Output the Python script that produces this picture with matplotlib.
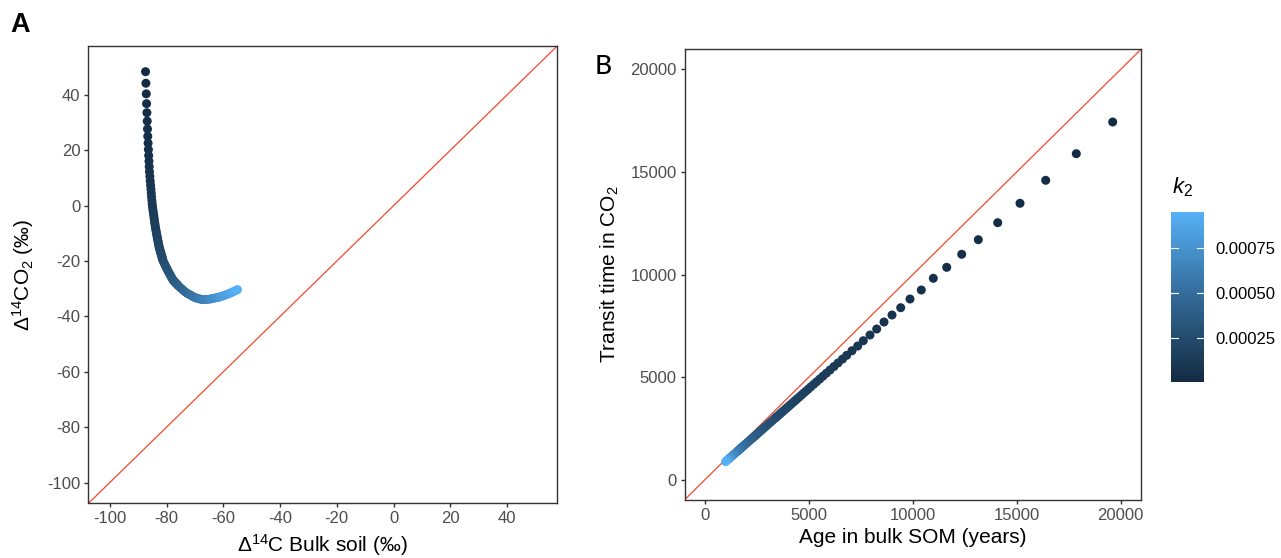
import numpy as np
import matplotlib
matplotlib.use("Agg")
import matplotlib.pyplot as plt
from matplotlib.colors import LinearSegmentedColormap, Normalize
from matplotlib.cm import ScalarMappable

plt.rcParams['font.family'] = ['Liberation Sans', 'DejaVu Sans']
plt.rcParams['mathtext.fontset'] = 'custom'
plt.rcParams['mathtext.rm'] = 'Liberation Sans'
plt.rcParams['mathtext.it'] = 'Liberation Sans:italic'
plt.rcParams['axes.unicode_minus'] = False

# ---------------- Panel A data (k2 in units of 1e-5) ----------------
k2_a_e5 = [0.5, 1, 1.5, 2, 2.5, 3, 3.5, 4, 4.5, 5, 5.5, 6, 6.5, 7, 7.5, 8, 8.5, 9, 9.5, 10,
           10.5, 11, 11.5, 12, 12.5, 13, 13.5, 14, 14.5, 15, 15.5, 16, 16.5, 17, 17.5, 18, 18.5, 19, 19.5, 20,
           20.5, 21, 21.5, 22, 22.5, 23, 23.5, 24, 24.5, 25,
           26, 27, 28, 29, 30, 31, 32, 33, 34, 35, 36, 37, 38, 39, 40,
           42, 44, 46, 48, 50, 52, 54, 56, 58, 60, 62, 64, 66, 68, 70, 72, 74, 76, 78, 80,
           82, 84, 86, 88, 90, 92, 94, 95]
bulk_d14c = [-87.40, -87.27, -87.14, -87.03, -86.92, -86.81, -86.71, -86.62, -86.50, -86.39,
             -86.29, -86.19, -86.10, -86.02, -85.88, -85.75, -85.62, -85.49, -85.38, -85.27,
             -85.16, -85.06, -84.93, -84.78, -84.63, -84.49, -84.36, -84.23, -84.11, -83.99,
             -83.86, -83.71, -83.57, -83.43, -83.30, -83.17, -83.04, -82.92, -82.80, -82.69,
             -82.57, -82.42, -82.26, -82.11, -81.96, -81.82, -81.68, -81.55, -81.42, -81.30,
             -80.95, -80.56, -80.19, -79.83, -79.50, -79.12, -78.75, -78.37, -77.99, -77.62,
             -77.24, -76.86, -76.49, -76.11, -75.73,
             -74.98, -74.22, -73.47, -72.71, -71.96, -71.21, -70.45, -69.70, -68.94, -68.19,
             -67.44, -66.68, -65.93, -65.17, -64.42, -63.67, -62.91, -62.16, -61.40, -60.65,
             -59.89, -59.14, -58.38, -57.63, -56.87, -56.12, -55.36, -54.99]
co2_d14c = [48.40, 44.23, 40.40, 36.86, 33.59, 30.54, 27.71, 25.07, 22.59, 20.28,
            18.10, 16.05, 14.11, 12.29, 10.56, 8.93, 7.37, 5.90, 4.50, 3.16,
            1.89, 0.67, -0.49, -1.60, -2.66, -3.68, -4.66, -5.60, -6.50, -7.37,
            -8.20, -9.01, -9.78, -10.53, -11.25, -11.94, -12.62, -13.27, -13.90, -14.50,
            -15.09, -15.66, -16.22, -16.75, -17.27, -17.78, -18.27, -18.74, -19.21, -19.66,
            -20.52, -21.34, -22.11, -22.85, -23.55, -24.26, -24.95, -25.65, -26.36, -26.99,
            -27.40, -27.82, -28.22, -28.64, -29.06,
            -29.75, -30.42, -31.09, -31.66, -32.09, -32.51, -32.95, -33.28, -33.50, -33.71,
            -33.90, -33.87, -33.84, -33.81, -33.67, -33.51, -33.35, -33.19, -33.02, -32.76,
            -32.49, -32.21, -31.94, -31.62, -31.25, -30.89, -30.52, -30.34]

# ---------------- Panel B data (k2 in units of 1e-5) ----------------
k2_b_e5 = [0.5, 1, 1.5, 2, 2.5, 3, 3.5, 4, 4.5, 5, 5.5, 6, 6.5, 7, 7.5, 8, 8.5, 9, 9.5, 10,
           10.5, 11, 11.5, 12, 12.5, 13, 13.5, 14, 14.5, 15, 15.5, 16, 16.5, 17, 17.5, 18, 18.5, 19, 19.5, 20,
           20.5, 21, 21.5, 22, 22.5, 23, 23.5, 24, 24.5, 25,
           26, 27, 28, 29, 30, 31, 32, 33, 34, 35, 36, 37, 38, 39, 40,
           42, 44, 46, 48, 50, 52, 54, 56, 58, 60,
           65, 70, 75, 80, 85, 90, 95]
age_bulk = [19615, 17865, 16394, 15159, 14087, 13154, 12356, 11635, 10990, 10413,
            9870, 9423, 9005, 8620, 8269, 7947, 7625, 7356, 7082, 6827,
            6623, 6410, 6211, 6024, 5848, 5682, 5525, 5376, 5236, 5102,
            4975, 4854, 4739, 4630, 4525, 4425, 4329, 4237, 4149, 4065,
            3984, 3906, 3831, 3759, 3690, 3623, 3559, 3497, 3436, 3378,
            3268, 3165, 3067, 2976, 2890, 2809, 2732, 2660, 2591, 2525,
            2463, 2404, 2347, 2294, 2242,
            2146, 2058, 1976, 1901, 1832, 1767, 1706, 1650, 1597, 1548,
            1437, 1340, 1256, 1182, 1116, 1057, 1004]
transit_co2 = [17435, 15891, 14595, 13475, 12530, 11702, 10991, 10357, 9822, 9252,
               8813, 8390, 8034, 7693, 7352, 7060, 6782, 6524, 6295, 6071,
               5888, 5698, 5522, 5355, 5199, 5051, 4912, 4779, 4655, 4536,
               4423, 4315, 4213, 4116, 4023, 3934, 3848, 3767, 3688, 3614,
               3542, 3472, 3406, 3342, 3280, 3221, 3164, 3109, 3055, 3003,
               2905, 2814, 2727, 2646, 2569, 2497, 2429, 2365, 2303, 2245,
               2190, 2137, 2086, 2039, 1993,
               1908, 1830, 1757, 1690, 1629, 1571, 1517, 1467, 1420, 1376,
               1277, 1191, 1117, 1051, 992, 940, 893]

cbar_ticks = [0.00025, 0.00050, 0.00075]
cbar_labels = ["0.00025", "0.00050", "0.00075"]

k2_a = np.array(k2_a_e5) * 1e-5
k2_b = np.array(k2_b_e5) * 1e-5

cmap = LinearSegmentedColormap.from_list(
    "gg", [(0.0, "#132B43"), (0.25, "#234A6C"), (0.5, "#336A98"),
           (0.75, "#448DC6"), (1.0, "#56B1F7")])
norm = Normalize(vmin=min(k2_a.min(), k2_b.min()), vmax=max(k2_a.max(), k2_b.max()))

W, H = 1281, 558
fig = plt.figure(figsize=(W / 100, H / 100), dpi=100)

def px_axes(l, t, r, b):
    return fig.add_axes([l / W, 1 - b / H, (r - l) / W, (b - t) / H])

tick_col = "#4D4D4D"
spine_col = "#333333"

def style(ax):
    for s in ax.spines.values():
        s.set_color(spine_col)
        s.set_linewidth(1.0)
    ax.tick_params(axis="both", colors=spine_col, labelcolor=tick_col,
                   labelsize=12, length=3.2, width=1.0, pad=2.5)

dot_s = 42

# Panel A
axA = px_axes(88.5, 46.5, 556.7, 503.3)
limA = (-107.5, 57.5)
axA.set_xlim(limA)
axA.set_ylim(limA)
axA.plot(limA, limA, color="#F2492A", lw=0.9, zorder=1)
axA.scatter(bulk_d14c, co2_d14c, c=k2_a, cmap=cmap, norm=norm, s=dot_s,
            linewidths=0, zorder=2)
axA.set_xticks([-100, -80, -60, -40, -20, 0, 20, 40])
axA.set_yticks([-100, -80, -60, -40, -20, 0, 20, 40])
style(axA)
axA.set_xlabel("Δ$^{14}$C Bulk soil (‰)", fontsize=15, labelpad=4)
axA.set_ylabel("Δ$^{14}$CO$_2$ (‰)", fontsize=15, labelpad=8)

# Panel B
axB = px_axes(684.7, 49.3, 1141.0, 499.7)
limB = (-962, 20976)
axB.set_xlim(limB)
axB.set_ylim(limB)
axB.plot(limB, limB, color="#F2492A", lw=0.9, zorder=1)
axB.scatter(age_bulk, transit_co2, c=k2_b, cmap=cmap, norm=norm, s=dot_s,
            linewidths=0, zorder=2)
axB.set_xticks([0, 5000, 10000, 15000, 20000])
axB.set_yticks([0, 5000, 10000, 15000, 20000])
style(axB)
axB.set_xlabel("Age in bulk SOM (years)", fontsize=15, labelpad=4)
axB.set_ylabel("Transit time in CO$_2$", fontsize=15, labelpad=7)

# Colorbar
cax = px_axes(1171, 211.7, 1204, 381.7)
sm = ScalarMappable(norm=norm, cmap=cmap)
cb = fig.colorbar(sm, cax=cax)
cb.outline.set_visible(False)
cb.set_ticks(cbar_ticks)
cb.set_ticklabels(cbar_labels)
cax.tick_params(length=0, labelsize=12, labelcolor="black", pad=8)
for t in cbar_ticks:
    cax.axhline(t, xmin=0, xmax=0.2, color="white", lw=0.8)
    cax.axhline(t, xmin=0.8, xmax=1.0, color="white", lw=0.8)
fig.text(1172 / W, 1 - 193 / H, "$k_2$", fontsize=16, ha="left", va="baseline")

# Panel tags
fig.text(10 / W, 1 - 32.3 / H, "A", fontsize=19.5, fontweight="bold",
         ha="left", va="baseline")
fig.text(595 / W, 1 - 73.5 / H, "B", fontsize=19, fontweight="medium",
         family=["Lato", "DejaVu Sans"], ha="left", va="baseline")

fig.savefig("out.png", dpi=100)
